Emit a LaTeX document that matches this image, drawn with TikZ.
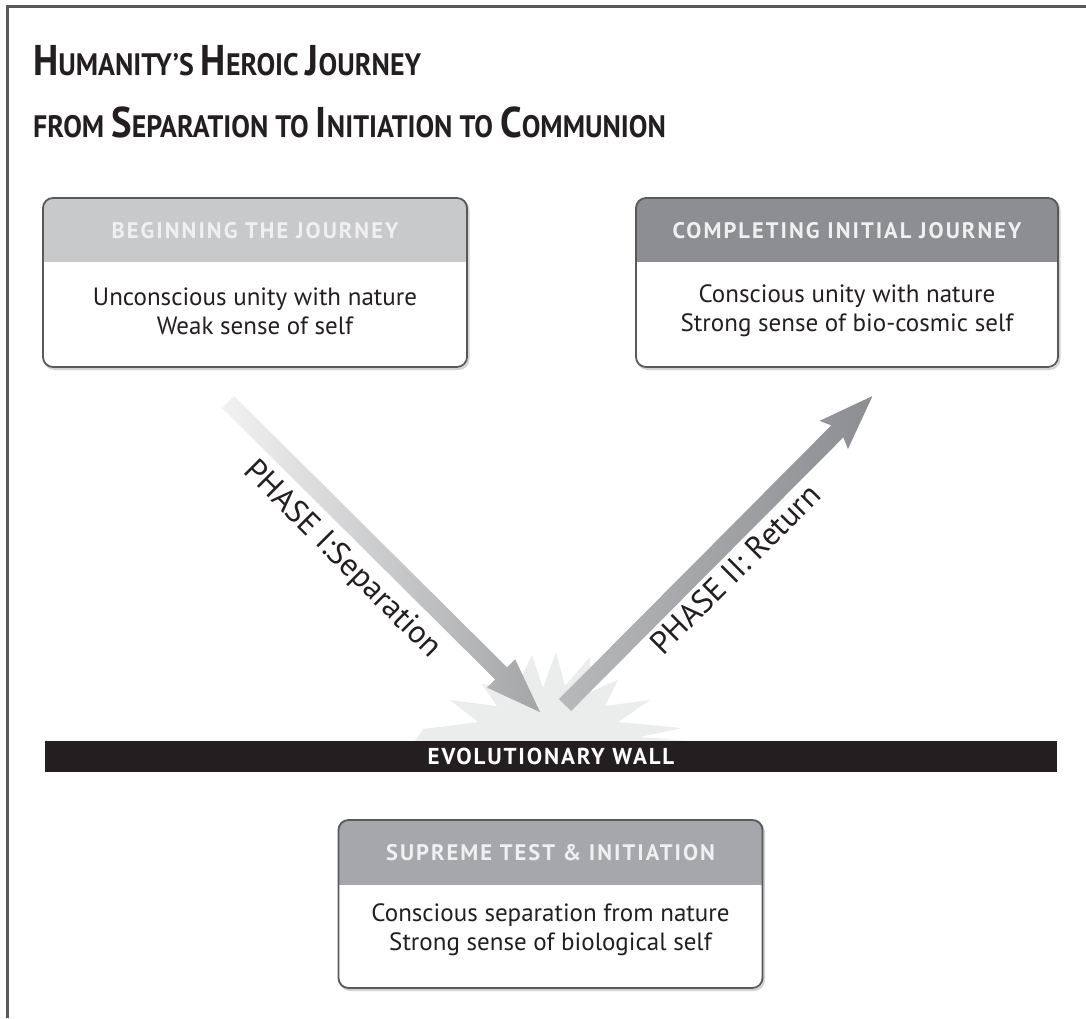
\documentclass[tikz,border=0pt]{standalone}
\usepackage{fontspec}
\setmainfont{PT Sans}
\newfontfamily\headfont[LetterSpace=9]{PT Sans}
\newfontfamily\wallfont[LetterSpace=8]{PT Sans}
\usepackage{graphicx}
\usetikzlibrary{positioning}

\definecolor{inkblack}{HTML}{231F20}
\definecolor{framegray}{HTML}{58595B}
\definecolor{headlight}{HTML}{C8C9CB}
\definecolor{headdark}{HTML}{8D8E91}
\definecolor{headmid}{HTML}{A6A7AA}
\definecolor{burstgray}{HTML}{EBECEC}

\newcommand{\titlecap}[1]{{\fontsize{43}{43}\selectfont #1}}

\tikzset{
  stagebox/.style={minimum width=424pt, minimum height=169pt, inner sep=0pt, outer sep=0pt},
  boxline/.style={draw=framegray, line width=1.8pt, rounded corners=10pt},
  boxshadow/.style={draw=gray!35, line width=2pt, rounded corners=10pt},
  headtext/.style={font=\headfont\bfseries\fontsize{22.5}{22.5}\selectfont, text=white!94!black},
  bodytext/.style={font=\fontsize{25}{29}\selectfont, text=inkblack, align=center},
  phasetext/.style={font=\fontsize{32}{32}\selectfont, text=inkblack},
}

\begin{document}
\begin{tikzpicture}[x=1pt, y=-1pt]
    \useasboundingbox (0,0) rectangle (1086,1018);

    % Frame
    \draw[framegray, line width=3pt] (7.5,1018) -- (7.5,6.5) -- (1086,6.5);

    % Title
    \node[anchor=base west, font=\bfseries\fontsize{31}{31}\selectfont, text=inkblack, inner sep=0pt] (title1) at (33,75)
        {\scalebox{0.9}[1]{\titlecap{H}UMANITY’S \titlecap{H}EROIC \titlecap{J}OURNEY}};
    \node[anchor=base west, font=\bfseries\fontsize{31}{31}\selectfont, text=inkblack, inner sep=0pt] (title2) at (33,137)
        {\scalebox{0.9}[1]{FROM \titlecap{S}EPARATION TO \titlecap{I}NITIATION TO \titlecap{C}OMMUNION}};

    % Stage boxes
    \node[stagebox] (begin) at (255,282.5) {};
    \node[stagebox, minimum width=422pt] (complete) at (847,282.5) {};
    \node[stagebox, minimum height=168pt] (supreme) at (550.5,904) {};

    \draw[boxshadow] ([shift={(1.5,2)}]begin.north west) rectangle ([shift={(1.5,2)}]begin.south east);
    \draw[boxshadow] ([shift={(1.5,2)}]complete.north west) rectangle ([shift={(1.5,2)}]complete.south east);
    \draw[boxshadow] ([shift={(1.5,2)}]supreme.north west) rectangle ([shift={(1.5,2)}]supreme.south east);

    \begin{scope}
        \clip[rounded corners=10pt] (begin.north west) rectangle (begin.south east);
        \fill[white] (begin.north west) rectangle (begin.south east);
        \fill[headlight] (begin.north west) rectangle ([yshift=-64pt]begin.north east);
    \end{scope}
    \begin{scope}
        \clip[rounded corners=10pt] (complete.north west) rectangle (complete.south east);
        \fill[white] (complete.north west) rectangle (complete.south east);
        \fill[headdark] (complete.north west) rectangle ([yshift=-64pt]complete.north east);
    \end{scope}
    \begin{scope}
        \clip[rounded corners=10pt] (supreme.north west) rectangle (supreme.south east);
        \fill[white] (supreme.north west) rectangle (supreme.south east);
        \fill[headmid] (supreme.north west) rectangle ([yshift=-65pt]supreme.north east);
    \end{scope}

    \draw[boxline] (begin.north west) rectangle (begin.south east);
    \draw[boxline] (complete.north west) rectangle (complete.south east);
    \draw[boxline] (supreme.north west) rectangle (supreme.south east);

    % Box texts
    \node[headtext] (beginhead) at (255,231) {BEGINNING THE JOURNEY};
    \node[bodytext] (beginbody) at (255,311) {Unconscious unity with nature\\Weak sense of self};
    \node[headtext] (completehead) at (847,231) {COMPLETING INITIAL JOURNEY};
    \node[bodytext] (completebody) at (847,311) {Conscious unity with nature\\Strong sense of bio-cosmic self};
    \node[headtext] (supremehead) at (550.5,853) {SUPREME TEST \& INITIATION};
    \node[bodytext] (supremebody) at (550.5,930) {Conscious separation from nature\\Strong sense of biological self};

    % Starburst at the wall
    \fill[burstgray] (415,741) -- (423,729) -- (478,722) -- (450,700) -- (497,706) -- (482,684)
        -- (515,690) -- (532,655) -- (543,688) -- (556,652) -- (565,686) -- (590,657)
        -- (590,692) -- (618,680) -- (605,706) -- (650,700) -- (618,722) -- (682,728)
        -- (640,737) -- (690,741) -- cycle;

    % Phase arrows
    \coordinate (sepstart) at (228,402);
    \coordinate (retstart) at (565,705);
    \begin{scope}[shift={(sepstart)}, rotate=-44.82]
        \shade[left color=gray!10, right color=headdark!80] (0,8.5) -- (385,8.5) -- (385,20) -- (440,0)
            -- (385,-20) -- (385,-8.5) -- (0,-8.5) -- cycle;
    \end{scope}
    \begin{scope}[shift={(retstart)}, rotate=45.14]
        \shade[left color=headmid!80, right color=headdark] (0,8.5) -- (386,8.5) -- (381,20) -- (436,0)
            -- (381,-20) -- (386,-8.5) -- (0,-8.5) -- cycle;
    \end{scope}

    % Phase labels
    \node[phasetext, rotate=-45] (seplabel) at (342,560) {PHASE I:Separation};
    \node[phasetext, rotate=45] (retlabel) at (735,569) {PHASE II: Return};

    % Evolutionary wall
    \node[fill=inkblack, minimum width=1012pt, minimum height=31pt, inner sep=0pt, text=white,
        font=\wallfont\bfseries\fontsize{23}{23}\selectfont] (wall) at (551,756.5) {EVOLUTIONARY WALL};

\end{tikzpicture}
\end{document}
